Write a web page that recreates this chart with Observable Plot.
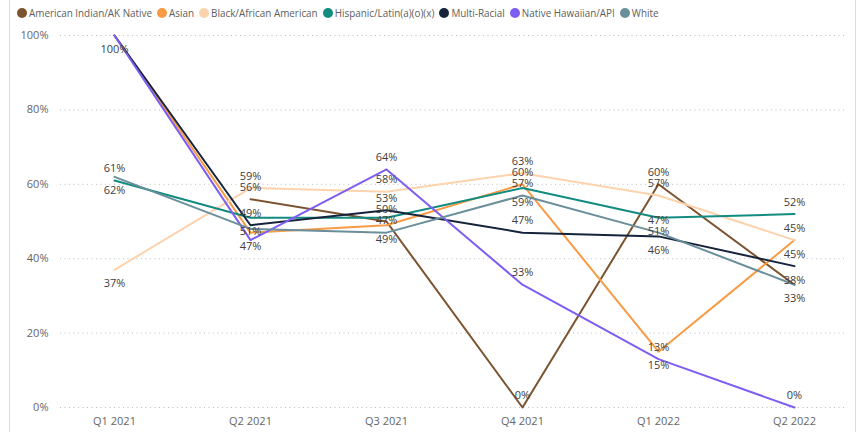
<!DOCTYPE html>
<html>
<head>
<meta charset="utf-8">
<script src="https://cdn.jsdelivr.net/npm/d3@7"></script>
<script src="https://cdn.jsdelivr.net/npm/@observablehq/plot@0.6"></script>
<style>
  html, body { margin: 0; padding: 0; background: #fff; }
  #wrap { position: relative; width: 858px; height: 432px; overflow: hidden; font-family: "Open Sans", "Noto Sans", sans-serif; }
  .edge { position: absolute; top: 0; width: 1px; height: 432px; background: #dcdcdc; }
  #legend { position: absolute; top: 6px; left: 17px; display: flex; align-items: center; font-size: 9.9px; color: #605E5C; white-space: nowrap; }
  #legend .item { display: flex; align-items: center; margin-right: 5px; }
  #legend .sw { width: 10px; height: 10px; border-radius: 50%; margin-right: 2px; }
  #chart { position: absolute; left: 0; top: 0; }
</style>
</head>
<body>
<div id="wrap">
  <div class="edge" style="left:9px"></div>
  <div class="edge" style="left:855px"></div>
  <div id="chart"></div>
  <div id="legend"></div>
</div>
<script>
const quarters = ["Q1 2021", "Q2 2021", "Q3 2021", "Q4 2021", "Q1 2022", "Q2 2022"];
const seriesNames = ["American Indian/AK Native", "Asian", "Black/African American", "Hispanic/Latin(a)(o)(x)", "Multi-Racial", "Native Hawaiian/API", "White"];
const americanIndian = [null, 0.56, 0.50, 0.00, 0.60, 0.33];
const asian          = [1.00, 0.47, 0.49, 0.60, 0.15, 0.45];
const black          = [0.37, 0.59, 0.58, 0.63, 0.57, 0.45];
const hispanic       = [0.61, 0.51, 0.51, 0.59, 0.51, 0.52];
const multiRacial    = [1.00, 0.49, 0.53, 0.47, 0.46, 0.38];
const nativeHawaiian = [1.00, 0.45, 0.64, 0.33, 0.13, 0.00];
const white          = [0.62, 0.48, 0.47, 0.57, 0.47, 0.33];
const yTicks = [0, 0.2, 0.4, 0.6, 0.8, 1.0];

const seriesColors = ["#7B532F", "#F99B45", "#FDD3AD", "#128C80", "#15233B", "#7E5DF2", "#6A8F9B"];

// which data labels are visible, and whether they sit above or below their point
const labelPlacement = [
  [null, "above", "above", "above", "above", null],
  [null, "below", "below", "above", "below", "below"],
  ["below", "above", "above", "above", "above", "above"],
  ["above", "below", null, "below", "below", "above"],
  [null, "above", "above", "above", "below", "below"],
  ["below", null, "above", "above", "above", "above"],
  ["below", null, "above", "above", "above", "below"]
];

const seriesValues = [americanIndian, asian, black, hispanic, multiRacial, nativeHawaiian, white];
const rows = [];
seriesValues.forEach((vals, i) => vals.forEach((v, j) => {
  if (v != null) rows.push({series: seriesNames[i], quarter: quarters[j], value: v, place: labelPlacement[i][j]});
}));
const pct = d => Math.round(d * 100) + "%";

const chart = Plot.plot({
  width: 858,
  height: 432,
  marginTop: 35,
  marginBottom: 25,
  marginLeft: 60,
  marginRight: 13,
  style: {fontFamily: "Open Sans, Noto Sans, sans-serif", fontSize: "11px", color: "#666", background: "transparent"},
  x: {type: "point", domain: quarters, range: [112, 795], padding: 0, label: null},
  y: {domain: [0, 1], label: null},
  color: {domain: seriesNames, range: seriesColors},
  marks: [
    Plot.ruleY(yTicks, {stroke: "#bdbdbd", strokeDasharray: "1,3.5", strokeWidth: 1}),
    Plot.axisY({ticks: yTicks, tickSize: 0, tickPadding: 12, tickFormat: pct, label: null, fontSize: 11}),
    Plot.axisX({tickSize: 0, tickPadding: 10, label: null, fontSize: 11}),
    Plot.line(rows, {x: "quarter", y: "value", z: "series", stroke: "series", strokeWidth: 2}),
    Plot.text(rows.filter(d => d.place === "above"), {x: "quarter", y: "value", text: d => pct(d.value), dy: -12, fill: "#404040", fontSize: 11}),
    Plot.text(rows.filter(d => d.place === "below"), {x: "quarter", y: "value", text: d => pct(d.value), dy: 14, fill: "#404040", fontSize: 11})
  ]
});
document.getElementById("chart").appendChild(chart);

const legend = document.getElementById("legend");
seriesNames.forEach((name, i) => {
  const item = document.createElement("div");
  item.className = "item";
  const sw = document.createElement("span");
  sw.className = "sw";
  sw.style.background = seriesColors[i];
  const tx = document.createElement("span");
  tx.textContent = name;
  item.appendChild(sw);
  item.appendChild(tx);
  legend.appendChild(item);
});
</script>
</body>
</html>
